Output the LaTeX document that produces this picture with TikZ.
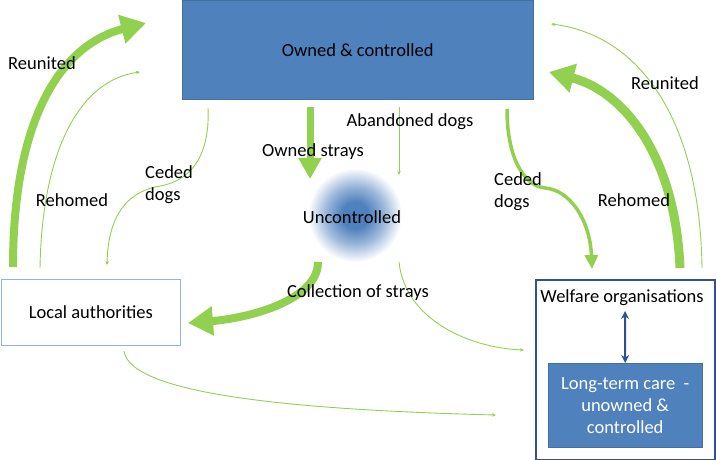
\documentclass[tikz,border=0pt]{standalone}
\usepackage{fontspec}
\setmainfont{Carlito}
\usetikzlibrary{arrows.meta}
\definecolor{grn}{HTML}{92D050}
\definecolor{boxblue}{HTML}{4F81BD}
\definecolor{boxedge}{HTML}{41719C}
\definecolor{darkblue}{HTML}{2F528F}
\definecolor{lightedge}{HTML}{95B3D7}
\pgfdeclareradialshading{blob}{\pgfpoint{0bp}{0bp}}{%
  color(0bp)=(boxblue); color(7bp)=(boxblue); color(16bp)=(boxblue!55!white); color(25bp)=(white); color(50bp)=(white)}
\tikzset{
  lbl/.style={font=\fontsize{18.5}{22}\selectfont, inner sep=0pt, align=left},
  thinarr/.style={draw=grn, line width=0.9pt, -{Stealth[length=4pt,width=3.5pt]}},
  bigarr/.style={draw=grn, line width=8pt, -{Triangle[length=25pt,width=28pt]}},
}
\begin{document}
\begin{tikzpicture}[x=1pt,y=-1pt]
\useasboundingbox (0,0) rectangle (716,460);
% boxes
\node[draw=boxedge, fill=boxblue, minimum width=351pt, minimum height=99pt, inner sep=0pt, anchor=north west, font=\fontsize{18.5}{22}\selectfont] (own) at (182,0) {Owned \& controlled};
\node[draw=lightedge, fill=white, line width=0.8pt, minimum width=179pt, minimum height=66pt, inner sep=0pt, anchor=north west, font=\fontsize{18.5}{22}\selectfont] (loc) at (1,279) {Local authorities};
\node[draw=darkblue, line width=1.6pt, minimum width=179pt, minimum height=180pt, inner sep=0pt, anchor=north west] (wel) at (535,279) {};
\node[lbl] (weltxt) at (622,298) {Welfare organisations};
\node[draw=boxedge, fill=boxblue, minimum width=154pt, minimum height=84pt, inner sep=0pt, anchor=north west, text=white, align=center, font=\fontsize{18.5}{22}\selectfont] (ltc) at (548,363) {Long-term care~~-\\unowned \&\\controlled};
% uncontrolled blob
\shade[shading=blob] (355,215) circle (47);
\node[lbl] (unc) at (352,217) {Uncontrolled};
% coordinates
\coordinate (a1s) at (13,267);   \coordinate (a1e) at (146,23);
\coordinate (a2s) at (40,268);   \coordinate (a2e) at (140,72);
\coordinate (a3s) at (208,108);  \coordinate (a3m) at (160,186); \coordinate (a3e) at (107,265);
\coordinate (a4s) at (310,107);  \coordinate (a4e) at (310,179);
\coordinate (a5s) at (399,107);  \coordinate (a5e) at (399,175);
\coordinate (a6s) at (507,109);  \coordinate (a6m) at (545,188); \coordinate (a6e) at (592,269);
\coordinate (a7s) at (680,268);  \coordinate (a7e) at (549,72);
\coordinate (a8s) at (702,268);  \coordinate (a8e) at (551,24);
\coordinate (a9s) at (318,262);  \coordinate (a9e) at (188,323);
\coordinate (a10s) at (399,262); \coordinate (a10e) at (524,350);
\coordinate (a11s) at (124,351); \coordinate (a11e) at (496,415);
\coordinate (dbs) at (625,311);
% arrows
\draw[bigarr] (a1s) .. controls (13,120) and (60,45) .. (a1e);
\draw[thinarr] (a2s) .. controls (42,150) and (80,80) .. (a2e);
\draw[thinarr] (a3s) .. controls (210,150) and (195,180) .. (a3m) .. controls (120,193) and (108,225) .. (a3e);
\draw[draw=grn, line width=7pt, -{Triangle[length=21pt,width=22pt]}] (a4s) -- (a4e);
\draw[thinarr] (a5s) -- (a5e);
\draw[draw=grn, line width=3.5pt, -{Triangle[length=14pt,width=13pt]}] (a6s) .. controls (507,160) and (525,186) .. (a6m) .. controls (570,190) and (590,220) .. (a6e);
\draw[draw=grn, line width=9pt, -{Triangle[length=25pt,width=28pt]}] (a7s) .. controls (675,150) and (620,90) .. (a7e);
\draw[thinarr] (a8s) .. controls (700,120) and (640,35) .. (a8e);
\draw[bigarr] (a9s) .. controls (318,300) and (250,318) .. (a9e);
\draw[thinarr] (a10s) .. controls (405,320) and (470,348) .. (a10e);
\draw[thinarr] (a11s) .. controls (130,395) and (300,410) .. (a11e);
\draw[draw=darkblue, line width=2pt, {Stealth[length=8pt,width=8pt]}-{Stealth[length=8pt,width=8pt]}] (dbs) -- (ltc.north);
% labels
\node[lbl] (l1) at (42,63) {Reunited};
\node[lbl] (l2) at (72,200) {Rehomed};
\node[lbl, anchor=west] (l3) at (145,185) {Ceded\\dogs};
\node[lbl] (l4) at (313,152) {Owned strays};
\node[lbl] (l5) at (410,122) {Abandoned dogs};
\node[lbl, anchor=west] (l6) at (494,192) {Ceded\\dogs};
\node[lbl] (l7) at (634,200) {Rehomed};
\node[lbl] (l8) at (665,83) {Reunited};
\node[lbl] (l9) at (358,293) {Collection of strays};
\end{tikzpicture}
\end{document}
